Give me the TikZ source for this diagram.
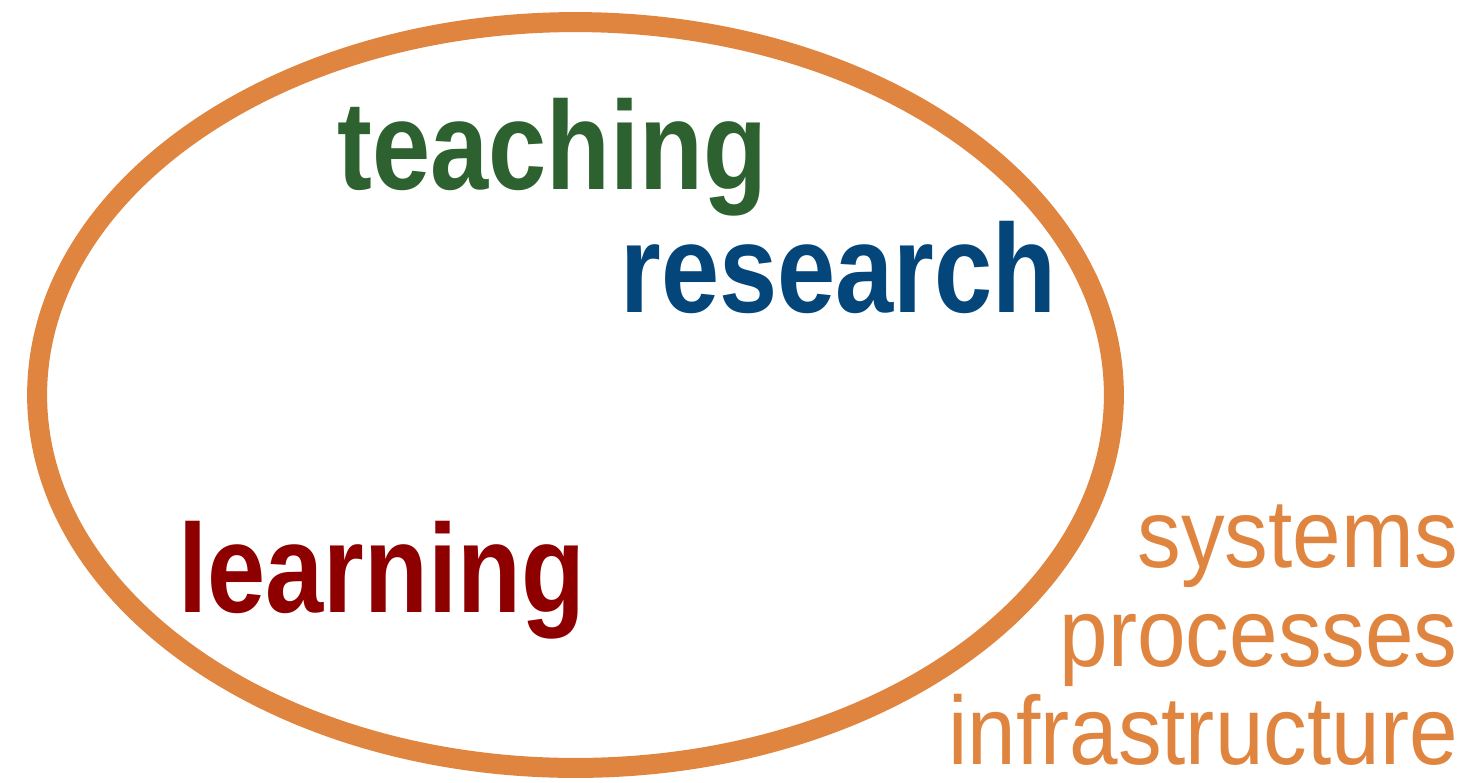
\documentclass[tikz,border=0pt]{standalone}
\usepackage{fontspec}
\newfontfamily\headfont[FakeStretch=0.83]{Liberation Sans}
\newfontfamily\sidefont[FakeStretch=0.9]{Liberation Sans}
\definecolor{ringorange}{HTML}{E08540}
\definecolor{teachgreen}{HTML}{2D6130}
\definecolor{resblue}{HTML}{04467A}
\definecolor{learnred}{HTML}{8E0000}
\begin{document}
\begin{tikzpicture}[x=0.02cm,y=-0.02cm,
  big/.style={inner sep=0pt,font=\headfont\bfseries\fontsize{71.7}{72}\selectfont},
  side/.style={inner sep=0pt,anchor=base east,text=ringorange,font=\sidefont\fontsize{55.2}{56}\selectfont}]
  \useasboundingbox (0,0) rectangle (1479,782);
  \draw[ringorange,line width=0.4cm] (575.5,395) ellipse [x radius=10.77cm,y radius=7.46cm];
  \node[big,anchor=base west,text=teachgreen] (teaching) at (337,189) {teaching};
  \node[big,anchor=base west,text=resblue] (research) at (620,312) {research};
  \node[big,anchor=base west,text=learnred] (learning) at (178,612) {learning};
  \node[side] (systems) at (1458,567) {systems};
  \node[side] (processes) at (1458,666) {processes};
  \node[side] (infra) at (1458,764) {infrastructure};
\end{tikzpicture}
\end{document}
